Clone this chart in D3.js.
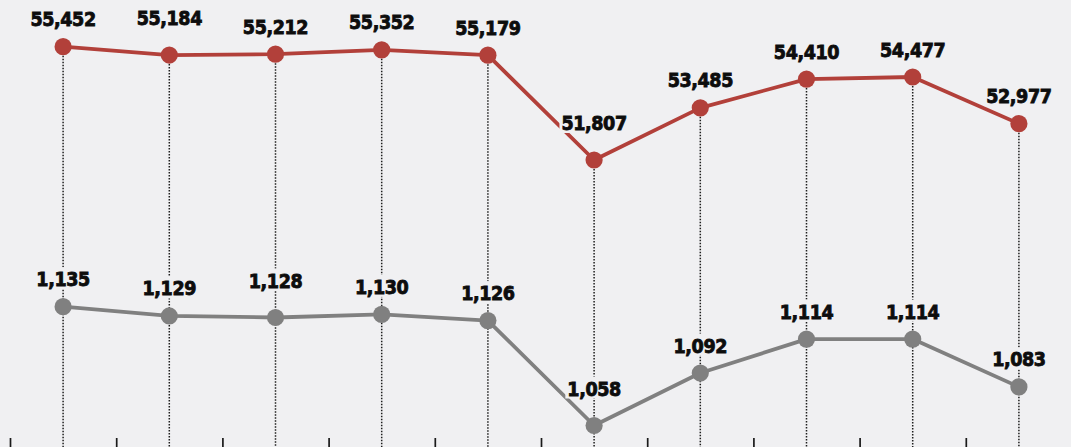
<!DOCTYPE html>
<head>
  <meta charset="utf-8">
  <script src="https://d3js.org/d3.v7.min.js"></script>
  <style>
    body { margin:0; background:#f0f0f2; overflow:hidden; }
    .lbl { font-family:"DejaVu Sans Condensed","DejaVu Sans",sans-serif; font-stretch:condensed; font-weight:bold; font-size:19.5px; fill:#0d0d0d; stroke:#0d0d0d; stroke-width:0.8px; letter-spacing:-0.4px; }
  </style>
</head>

<body>
  <script>
    var width = 1071;
    var height = 447;

    // one entry per period, left to right
    const periods = ["P1","P2","P3","P4","P5","P6","P7","P8","P9","P10"];
    const upperValues = [55452, 55184, 55212, 55352, 55179, 51807, 53485, 54410, 54477, 52977];
    const lowerValues = [1135, 1129, 1128, 1130, 1126, 1058, 1092, 1114, 1114, 1083];

    var svg = d3.select("body").append("svg")
      .attr("width", width)
      .attr("height", height)

    svg.append("rect").attr("width", width).attr("height", height).attr("fill", "#f0f0f2")

    // x: point i sits in the middle of its band, ticks mark the band edges
    var x = d3.scaleLinear().domain([-0.5, periods.length - 0.5]).range([10, 1072]);
    var yTop = d3.scaleLinear().domain(d3.extent(upperValues)).range([160, 46.7]);
    var yBot = d3.scaleLinear().domain(d3.extent(lowerValues)).range([425.5, 306.7]);

    var fmt = d3.format(",");

    // dotted drop lines from the upper dot to the bottom edge
    svg.append("g").selectAll("line").data(upperValues).enter().append("line")
      .attr("x1", (d, i) => x(i)).attr("x2", (d, i) => x(i))
      .attr("y1", d => yTop(d)).attr("y2", height)
      .attr("stroke", "#1e1e1e").attr("stroke-width", 1.5)
      .attr("stroke-dasharray", "1.5,1.5")

    // bottom axis, ticks only
    var axis = d3.axisBottom(x)
      .tickValues(d3.range(periods.length).map(i => i - 0.5))
      .tickSize(9).tickFormat("");
    var ax = svg.append("g").attr("transform", "translate(0," + (height - 9) + ")").call(axis)
    ax.select(".domain").remove()
    ax.selectAll(".tick line").attr("stroke", "#1a1a1a").attr("stroke-width", 1.7)

    function drawSeries(values, y, color) {
      var g = svg.append("g")
      var line = d3.line().x((d, i) => x(i)).y(d => y(d));
      g.append("path").datum(values)
        .attr("d", line)
        .attr("fill", "none")
        .attr("stroke", color)
        .attr("stroke-width", 3.8)
        .attr("stroke-linejoin", "round")
      g.selectAll("circle").data(values).enter().append("circle")
        .attr("cx", (d, i) => x(i)).attr("cy", d => y(d))
        .attr("r", 8.6).attr("fill", color)

      var labels = g.selectAll("g.lbl").data(values).enter().append("g")
      labels.each(function(d, i) {
        // a dip gets its label pushed higher so it clears the line
        var dip = i > 0 && i < values.length - 1 && values[i - 1] > d && values[i + 1] > d;
        var off = dip ? 30 : 20.5;
        var t = d3.select(this).append("text").attr("class", "lbl")
          .attr("x", x(i)).attr("y", y(d) - off)
          .attr("text-anchor", "middle")
          .text(fmt(d))
        var bb = t.node().getBBox();
        d3.select(this).insert("rect", "text")
          .attr("x", bb.x - 2).attr("y", bb.y - 1)
          .attr("width", bb.width + 4).attr("height", bb.height - 1)
          .attr("fill", "#f0f0f2")
      })
    }

    drawSeries(upperValues, yTop, "#b2403a");
    drawSeries(lowerValues, yBot, "#808080");
  </script>
</body>

</html>
